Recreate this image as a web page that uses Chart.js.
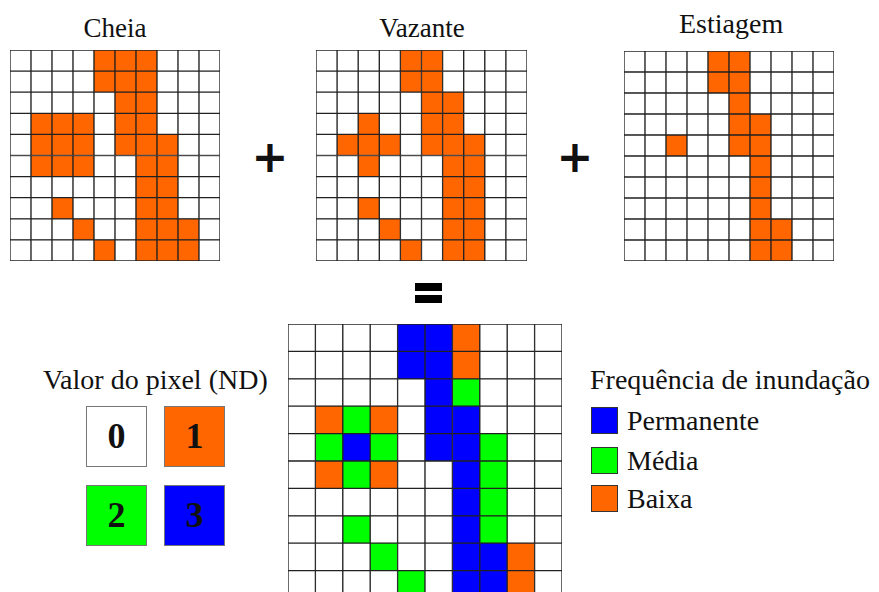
<!DOCTYPE html>
<html>
<head>
<meta charset="utf-8">
<script src="https://cdn.jsdelivr.net/npm/chart.js@4.4.1/dist/chart.umd.min.js"></script>
<style>
  html,body{margin:0;padding:0;background:#fff;overflow:hidden;width:879px;height:592px;}
  #wrap{position:relative;width:879px;height:592px;overflow:hidden;font-family:"Liberation Serif","Times New Roman",serif;color:#111;}
  .abs{position:absolute;}
  .title{font-size:27px;line-height:27px;text-align:center;white-space:nowrap;}
  .op{font-family:"DejaVu Sans",sans-serif;font-weight:bold;font-size:44px;line-height:44px;text-align:center;}
  .nd{width:61px;height:61px;border:1px solid #777;box-sizing:border-box;font-weight:bold;font-size:36px;line-height:59px;text-align:center;}
  .lg{width:27px;height:27px;border:1px solid #333;box-sizing:border-box;}
  .lt{font-size:28px;line-height:28px;white-space:nowrap;}
  canvas{position:absolute;}
</style>
</head>
<body>
<div id="wrap">
  <div class="abs title" style="left:65px;top:15px;width:100px;">Cheia</div>
  <div class="abs title" style="left:372px;top:15px;width:100px;">Vazante</div>
  <div class="abs title" style="left:679px;top:10px;width:100px;font-size:28px;">Estiagem</div>

  <canvas id="gCheia" width="210" height="211" style="left:10px;top:50px;"></canvas>
  <canvas id="gVazante" width="211" height="211" style="left:316px;top:50px;"></canvas>
  <canvas id="gEstiagem" width="210" height="210" style="left:624px;top:51px;"></canvas>
  <canvas id="gFreq" width="274" height="274" style="left:288px;top:324px;"></canvas>

  <div class="abs op" style="left:245px;top:135px;width:50px;">+</div>
  <div class="abs op" style="left:550px;top:135px;width:50px;">+</div>
  <div class="abs" style="left:415px;top:283px;width:27px;height:8px;background:#000;"></div>
  <div class="abs" style="left:415px;top:295px;width:27px;height:8px;background:#000;"></div>

  <div class="abs lt" style="left:43px;top:366px;">Valor do pixel (ND)</div>
  <div class="abs nd" style="left:86px;top:406px;background:#fff;">0</div>
  <div class="abs nd" style="left:164px;top:406px;background:#FF6600;">1</div>
  <div class="abs nd" style="left:86px;top:485px;background:#00FF00;">2</div>
  <div class="abs nd" style="left:164px;top:485px;background:#0000FF;">3</div>

  <div class="abs lt" style="left:590px;top:366px;">Frequência de inundação</div>
  <div class="abs lg" style="left:591px;top:407px;background:#0000FF;"></div>
  <div class="abs lt" style="left:627px;top:407px;">Permanente</div>
  <div class="abs lg" style="left:591px;top:447px;background:#00FF00;"></div>
  <div class="abs lt" style="left:627px;top:447px;">Média</div>
  <div class="abs lg" style="left:591px;top:485px;background:#FF6600;"></div>
  <div class="abs lt" style="left:627px;top:485px;">Baixa</div>
</div>
<script>
// Pixel values (ND) per row, top row first; one digit per column
const columns = ["1","2","3","4","5","6","7","8","9","10"];

const cheia = [
  "0000111000",
  "0000111000",
  "0000011000",
  "0111011000",
  "0111011100",
  "0111001100",
  "0000001100",
  "0010001100",
  "0001001110",
  "0000101110"
];

const vazante = [
  "0000110000",
  "0000110000",
  "0000011000",
  "0010011000",
  "0111011100",
  "0010001100",
  "0000001100",
  "0010001100",
  "0001001100",
  "0000101100"
];

const estiagem = [
  "0000110000",
  "0000110000",
  "0000010000",
  "0000011000",
  "0010011000",
  "0000001000",
  "0000001000",
  "0000001000",
  "0000001100",
  "0000001100"
];

const frequencia = [
  "0000331000",
  "0000331000",
  "0000032000",
  "0121033000",
  "0232033200",
  "0121003200",
  "0000003200",
  "0020003200",
  "0002003310",
  "0000203310"
];

const classColors = ["#FFFFFF", "#FF6600", "#00FF00", "#0000FF"];

function makeGrid(id, rows) {
  const n = rows.length;
  const datasets = [];
  // stacked bars: dataset 0 is the bottom row
  for (let i = n - 1; i >= 0; i--) {
    const vals = rows[i].split("").map(Number);
    datasets.push({
      data: vals.map(() => 1),
      backgroundColor: vals.map(v => classColors[v]),
      borderColor: "#222",
      borderWidth: 1,
      borderSkipped: false,
      barPercentage: 1,
      categoryPercentage: 1
    });
  }
  new Chart(document.getElementById(id), {
    type: "bar",
    data: { labels: columns.slice(0, rows[0].length), datasets },
    options: {
      responsive: false,
      animation: false,
      devicePixelRatio: 1,
      layout: { padding: 0 },
      plugins: { legend: { display: false }, tooltip: { enabled: false } },
      scales: {
        x: { stacked: true, display: false, offset: true },
        y: { stacked: true, display: false, min: 0, max: n }
      }
    }
  });
}

makeGrid("gCheia", cheia);
makeGrid("gVazante", vazante);
makeGrid("gEstiagem", estiagem);
makeGrid("gFreq", frequencia);
</script>
</body>
</html>
